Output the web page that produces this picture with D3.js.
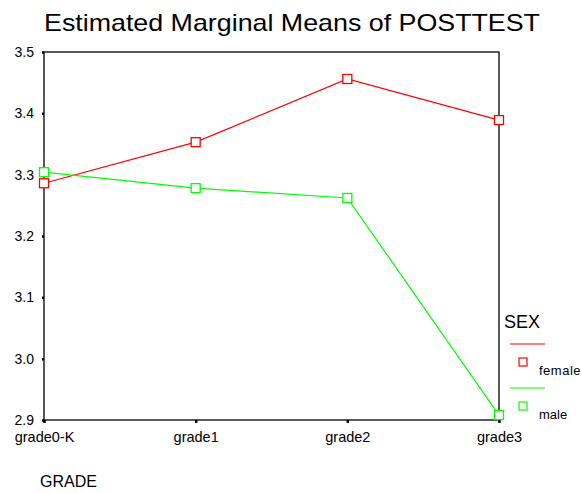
<!doctype html>
<html lang="en">
<head>
  <meta charset="utf-8">
  <title>Estimated Marginal Means of POSTTEST</title>
  <script src="https://cdn.jsdelivr.net/npm/d3@7"></script>
  <style>
    body{margin:0;background:#fff}
    svg text{font-family:Arial,"Liberation Sans",sans-serif;fill:#000}
  </style>
</head>
<body>
<div id="chart"></div>
<script>
var grades = ["grade0-K", "grade1", "grade2", "grade3"];
var female = [3.286, 3.353, 3.456, 3.389];
var male = [3.304, 3.278, 3.262, 2.908];
var yTicks = [2.9, 3.0, 3.1, 3.2, 3.3, 3.4, 3.5];
var series = [
  {name: "female", color: "#ff0000", values: female},
  {name: "male", color: "#00ff00", values: male}
];

var svg = d3.select("#chart").append("svg").attr("width", 582).attr("height", 493);

var x = d3.scalePoint().domain(grades).range([44, 499]);
var y = d3.scaleLinear().domain([2.9, 3.5]).range([420, 52]);

svg.append("text").attr("x", 292).attr("y", 31).attr("text-anchor", "middle")
  .attr("textLength", 496).attr("lengthAdjust", "spacingAndGlyphs")
  .style("font-size", "24px").text("Estimated Marginal Means of POSTTEST");

// frame
svg.append("rect").attr("x", 44).attr("y", 52).attr("width", 455).attr("height", 368)
  .attr("fill", "none").attr("stroke", "#000").attr("stroke-width", 1.3);

// y axis
var ya = svg.append("g").attr("transform", "translate(44,0)")
  .call(d3.axisLeft(y).tickValues(yTicks).tickFormat(d3.format(".1f")).tickSize(2).tickPadding(8));
ya.select(".domain").remove();
ya.selectAll(".tick line").attr("stroke", "#000").attr("stroke-width", 2.5);
ya.selectAll("text").style("font-size", "14px");

// x axis
var xa = svg.append("g").attr("transform", "translate(0,420)")
  .call(d3.axisBottom(x).tickSize(3).tickPadding(9));
xa.select(".domain").remove();
xa.selectAll(".tick line").attr("stroke", "#000").attr("stroke-width", 2.5);
xa.selectAll("text").style("font-size", "14.5px");

svg.append("text").attr("x", 40).attr("y", 487).style("font-size", "16px").text("GRADE");

var line = d3.line().x(function (d, i) { return x(grades[i]); }).y(function (d) { return y(d); });

series.forEach(function (s) {
  svg.append("path").datum(s.values).attr("d", line)
    .attr("fill", "none").attr("stroke", s.color).attr("stroke-width", 1.2);
  svg.selectAll(null).data(s.values).enter().append("rect")
    .attr("x", function (d, i) { return x(grades[i]) - 4.5; })
    .attr("y", function (d) { return y(d) - 4.5; })
    .attr("width", 9).attr("height", 9)
    .attr("fill", "#fff").attr("stroke", s.color).attr("stroke-width", 1.3);
});

// legend
var lg = svg.append("g");
lg.append("text").attr("x", 504).attr("y", 328).style("font-size", "18px").text("SEX");
series.forEach(function (s, i) {
  var oy = 344 + i * 44;
  lg.append("line").attr("x1", 510).attr("x2", 545).attr("y1", oy).attr("y2", oy)
    .attr("stroke", s.color).attr("stroke-width", 1.2);
  lg.append("rect").attr("x", 519).attr("y", oy + 14).attr("width", 8).attr("height", 8)
    .attr("fill", "#fff").attr("stroke", s.color).attr("stroke-width", 1.2);
  lg.append("text").attr("x", 539).attr("y", oy + 31).style("font-size", "13px")
    .style("letter-spacing", i === 0 ? "0.5px" : "0px").text(s.name);
});
</script>
</body>
</html>
